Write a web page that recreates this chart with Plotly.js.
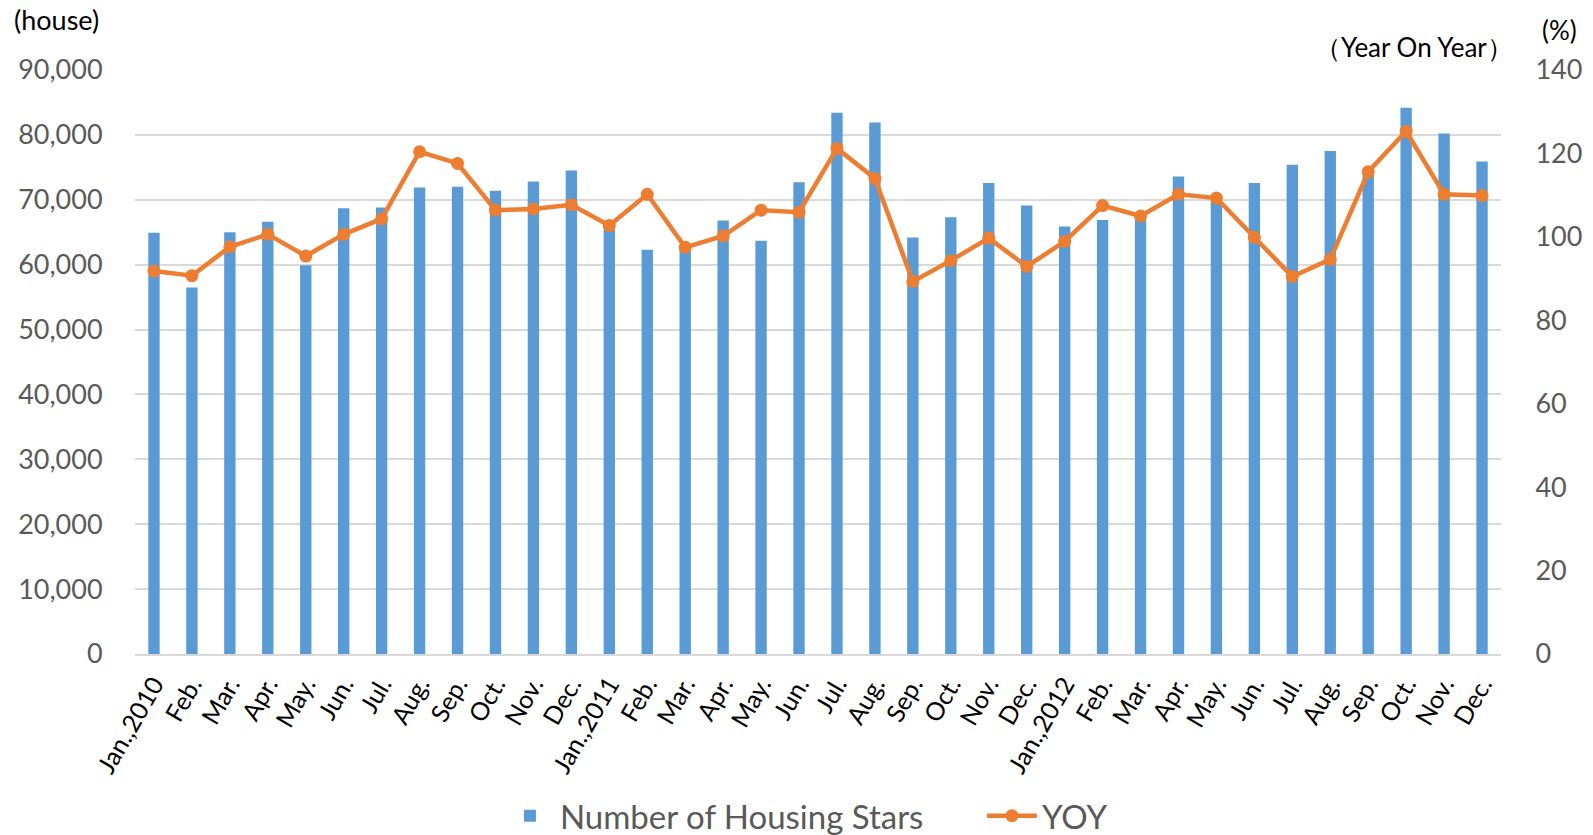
<!DOCTYPE html>
<html>
<head>
<meta charset="utf-8">
<script src="https://cdn.plot.ly/plotly-3.0.1.min.js"></script>
<style>
  html, body { margin: 0; padding: 0; background: #ffffff; }
  #chart { width: 1593px; height: 835px; }
</style>
</head>
<body>
<div id="chart"></div>
<script>
const monthLabels = [
  "Jan.,2010","Feb.","Mar.","Apr.","May.","Jun.","Jul.","Aug.","Sep.","Oct.","Nov.","Dec.",
  "Jan.,2011","Feb.","Mar.","Apr.","May.","Jun.","Jul.","Aug.","Sep.","Oct.","Nov.","Dec.",
  "Jan.,2012","Feb.","Mar.","Apr.","May.","Jun.","Jul.","Aug.","Sep.","Oct.","Nov.","Dec."
];

const housingStarts = [
  64900, 56500, 65000, 66600, 59900, 68700, 68800, 71900, 72000, 71400, 72800, 74500,
  65800, 62300, 62700, 66800, 63700, 72700, 83400, 81900, 64200, 67300, 72600, 69100,
  65900, 66900, 67700, 73600, 70300, 72600, 75400, 77500, 74000, 84200, 80200, 75900
];

const yoy = [
  91.8, 90.7, 97.6, 100.6, 95.4, 100.6, 104.3, 120.4, 117.6, 106.4, 106.7, 107.7,
  102.7, 110.2, 97.5, 100.2, 106.4, 105.9, 121.2, 114.0, 89.3, 94.3, 99.7, 92.9,
  98.9, 107.5, 105.0, 110.2, 109.3, 99.9, 90.5, 94.6, 115.6, 125.3, 110.2, 109.9
];

const leftTicks = [0, 10000, 20000, 30000, 40000, 50000, 60000, 70000, 80000, 90000];
const rightTicks = [0, 20, 40, 60, 80, 100, 120, 140];

const xPos = monthLabels.map((_, i) => i);
const FONT = "Lato, 'Open Sans', sans-serif";

const traces = [
  {
    type: "bar",
    name: "Number of Housing Stars",
    x: xPos,
    y: housingStarts,
    marker: { color: "#5B9BD5" },
    yaxis: "y",
    hoverinfo: "y"
  },
  {
    type: "scatter",
    mode: "lines+markers",
    name: "YOY",
    x: xPos,
    y: yoy,
    yaxis: "y2",
    line: { color: "#ED7D31", width: 4.5 },
    marker: { color: "#ED7D31", size: 13 },
    hoverinfo: "y"
  }
];

const layout = {
  width: 1593,
  height: 835,
  margin: { l: 135, r: 92, t: 70, b: 181, autoexpand: false },
  paper_bgcolor: "#ffffff",
  plot_bgcolor: "#ffffff",
  font: { family: FONT, color: "#595959" },
  bargap: 0.7,
  showlegend: true,
  legend: {
    orientation: "h",
    x: 0.620, xanchor: "center",
    y: -0.277, yanchor: "middle",
    font: { size: 33, color: "#595959", family: FONT },
    itemwidth: 50,
    entrywidth: 417,
    entrywidthmode: "pixels",
    traceorder: "normal"
  },
  xaxis: {
    type: "linear",
    range: [-0.5, 35.5],
    tickmode: "array",
    tickvals: xPos,
    ticktext: monthLabels,
    tickangle: -60,
    tickfont: { size: 25, color: "#000000", family: FONT },
    showgrid: false,
    zeroline: false,
    showline: true,
    linecolor: "#D9D9D9",
    linewidth: 2,
    ticks: "outside",
    ticklen: 4,
    tickcolor: "rgba(0,0,0,0)",
    automargin: false,
    fixedrange: true
  },
  yaxis: {
    range: [0, 90000],
    tickmode: "array",
    tickvals: leftTicks,
    tickformat: ",d",
    tickfont: { size: 27, color: "#595959", family: FONT },
    showgrid: true,
    gridcolor: "#D9D9D9",
    gridwidth: 2,
    zeroline: false,
    showline: false,
    ticks: "outside",
    ticklen: 26,
    tickcolor: "rgba(0,0,0,0)",
    automargin: false
  },
  yaxis2: {
    range: [0, 140],
    overlaying: "y",
    side: "right",
    tickmode: "array",
    tickvals: rightTicks,
    tickfont: { size: 27, color: "#595959", family: FONT },
    showgrid: false,
    zeroline: false,
    showline: false,
    ticks: "outside",
    ticklen: 28,
    tickcolor: "rgba(0,0,0,0)",
    automargin: false
  },
  annotations: [
    {
      text: "(house)", xref: "paper", yref: "paper",
      x: -0.090, y: 1.086, xanchor: "left", yanchor: "middle",
      showarrow: false, font: { size: 27, color: "#000000", family: FONT }
    },
    {
      text: "(%)", xref: "paper", yref: "paper",
      x: 1.043, y: 1.068, xanchor: "center", yanchor: "middle",
      showarrow: false, font: { size: 26, color: "#000000", family: FONT }
    },
    {
      text: "（Year On Year）", xref: "paper", yref: "paper",
      x: 1.010, y: 1.040, xanchor: "right", yanchor: "middle",
      showarrow: false, font: { size: 26, color: "#000000", family: FONT }
    }
  ]
};

Plotly.newPlot("chart", traces, layout, { displayModeBar: false, staticPlot: true });
</script>
</body>
</html>
